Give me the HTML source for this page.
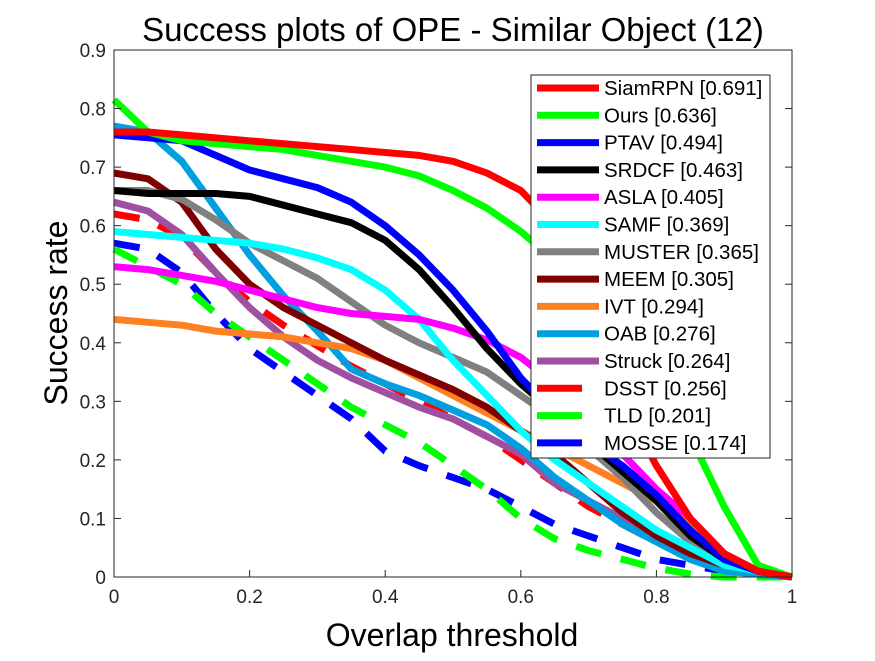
<!DOCTYPE html>
<html><head><meta charset="utf-8"><style>
body{margin:0;background:#fff;}
svg{font-family:"Liberation Sans",sans-serif;}
</style></head><body>
<svg id="chart" width="875" height="656" xmlns="http://www.w3.org/2000/svg">
<rect width="875" height="656" fill="#fff"/>
<text x="453" y="41" font-size="33" text-anchor="middle">Success plots of OPE - Similar Object (12)</text>
<g id="grid"></g>
<g id="series"></g>
<rect x="114" y="50" width="678" height="527" fill="none" stroke="#262626" stroke-width="1"/>
<g id="ticks"></g>
<text x="452" y="646" font-size="32" text-anchor="middle">Overlap threshold</text>
<text transform="translate(67,313) rotate(-90)" font-size="32" text-anchor="middle">Success rate</text>
<g id="legend"></g>
</svg>
<script>
const thresholds=[0,0.05,0.1,0.15,0.2,0.25,0.3,0.35,0.4,0.45,0.5,0.55,0.6,0.65,0.7,0.75,0.8,0.85,0.9,0.95,1];
const xTicks=[0,0.2,0.4,0.6,0.8,1];
const xTickLabels=["0","0.2","0.4","0.6","0.8","1"];
const yTicks=[0,0.1,0.2,0.3,0.4,0.5,0.6,0.7,0.8,0.9];
const yTickLabels=["0","0.1","0.2","0.3","0.4","0.5","0.6","0.7","0.8","0.9"];
const names=["SiamRPN [0.691]","Ours [0.636]","PTAV [0.494]","SRDCF [0.463]","ASLA [0.405]","SAMF [0.369]","MUSTER [0.365]","MEEM [0.305]","IVT [0.294]","OAB [0.276]","Struck [0.264]","DSST [0.256]","TLD [0.201]","MOSSE [0.174]"];
const colors=["#ff0000","#00ff00","#0000ff","#000000","#ff00ff","#00ffff","#808080","#800000","#ff8020","#00a0e0","#a050a0","#ff0000","#00ff00","#0000ff"];
const dashed=[false,false,false,false,false,false,false,false,false,false,false,true,true,true];
const siamrpn=[0.76,0.76,0.755,0.75,0.745,0.74,0.735,0.73,0.725,0.72,0.71,0.69,0.66,0.60,0.45,0.30,0.19,0.10,0.04,0.01,0];
const ours=[0.815,0.76,0.745,0.74,0.735,0.73,0.72,0.71,0.70,0.685,0.66,0.63,0.59,0.54,0.48,0.41,0.33,0.24,0.12,0.02,0];
const ptav=[0.755,0.75,0.745,0.72,0.695,0.68,0.665,0.64,0.60,0.55,0.49,0.42,0.34,0.28,0.23,0.19,0.14,0.08,0.03,0.01,0];
const srdcf=[0.66,0.655,0.655,0.655,0.65,0.635,0.62,0.605,0.575,0.525,0.46,0.39,0.33,0.28,0.23,0.18,0.13,0.07,0.03,0.01,0];
const asla=[0.53,0.525,0.515,0.505,0.49,0.475,0.46,0.45,0.445,0.44,0.425,0.405,0.375,0.33,0.27,0.21,0.15,0.10,0.04,0.01,0];
const samf=[0.59,0.585,0.58,0.575,0.57,0.56,0.545,0.525,0.49,0.44,0.37,0.31,0.25,0.20,0.16,0.12,0.08,0.05,0.02,0.01,0];
const muster=[0.66,0.66,0.645,0.61,0.57,0.54,0.51,0.47,0.43,0.40,0.375,0.35,0.31,0.27,0.22,0.17,0.11,0.06,0.02,0.01,0];
const meem=[0.69,0.68,0.64,0.56,0.50,0.46,0.43,0.40,0.37,0.345,0.32,0.29,0.25,0.21,0.16,0.11,0.07,0.04,0.02,0.01,0];
const ivt=[0.44,0.435,0.43,0.42,0.415,0.41,0.40,0.39,0.37,0.34,0.31,0.28,0.25,0.22,0.19,0.16,0.13,0.09,0.04,0.01,0];
const oab=[0.77,0.76,0.71,0.63,0.55,0.48,0.42,0.355,0.33,0.31,0.285,0.26,0.22,0.17,0.13,0.09,0.06,0.03,0.01,0.005,0];
const struck=[0.64,0.625,0.585,0.52,0.46,0.41,0.37,0.34,0.315,0.29,0.27,0.24,0.21,0.16,0.13,0.10,0.07,0.04,0.02,0.01,0];
const dsst=[0.62,0.61,0.58,0.52,0.47,0.43,0.395,0.36,0.33,0.30,0.27,0.24,0.20,0.16,0.12,0.09,0.06,0.035,0.015,0.005,0];
const tld=[0.56,0.53,0.50,0.45,0.41,0.37,0.33,0.29,0.26,0.23,0.19,0.15,0.10,0.065,0.045,0.03,0.015,0.005,0,0,0];
const mosse=[0.57,0.56,0.52,0.45,0.39,0.35,0.31,0.27,0.215,0.19,0.17,0.15,0.12,0.09,0.07,0.05,0.03,0.02,0.01,0.005,0];
const seriesValues=[siamrpn,ours,ptav,srdcf,asla,samf,muster,meem,ivt,oab,struck,dsst,tld,mosse];
const seriesKeys=["siamrpn","ours","ptav","srdcf","asla","samf","muster","meem","ivt","oab","struck","dsst","tld","mosse"];

const NS="http://www.w3.org/2000/svg";
const X0=114,X1=792,Y0=577,Y1=50,YMAX=0.9;
function xs(t){return X0+(X1-X0)*t;}
function ys(v){return Y0-(Y0-Y1)*v/YMAX;}
function mk(tag,attrs,parent){const e=document.createElementNS(NS,tag);for(const k in attrs)e.setAttribute(k,attrs[k]);parent.appendChild(e);return e;}

const ticks=document.getElementById('ticks');
xTicks.forEach((t,i)=>{
  mk('line',{x1:xs(t),x2:xs(t),y1:Y0,y2:Y0-7,stroke:'#262626'},ticks);
  const tx=mk('text',{x:xs(t),y:Y0+26,'font-size':19,'text-anchor':'middle',fill:'#262626'},ticks);
  
  
  tx.textContent=xTickLabels[i];
});
yTicks.forEach((v,i)=>{
  mk('line',{x1:X0,x2:X0+7,y1:ys(v),y2:ys(v),stroke:'#262626'},ticks);
  mk('line',{x1:X1,x2:X1-7,y1:ys(v),y2:ys(v),stroke:'#262626'},ticks);
  const tx=mk('text',{x:X0-8,y:ys(v)+7,'font-size':19,'text-anchor':'end',fill:'#262626'},ticks);
  
  
  tx.textContent=yTickLabels[i];
});

const sg=document.getElementById('series');
for(let s=seriesValues.length-1;s>=0;s--){
  const pts=seriesValues[s].map((v,i)=>xs(thresholds[i]).toFixed(1)+','+ys(v).toFixed(1)).join(' ');
  const pl=mk('polyline',{points:pts,fill:'none',stroke:colors[s],'stroke-width':7,'stroke-linejoin':'round'},sg);
  if(dashed[s])pl.setAttribute('stroke-dasharray','26 20');
  
  
}

const lg=document.getElementById('legend');
mk('rect',{x:531,y:75,width:239,height:383,fill:'#fff',stroke:'#262626','stroke-width':1},lg);
names.forEach((n,i)=>{
  const y=88+i*27.3;
  const g=mk('g',{},lg);
  
  
  mk('line',{x1:537,x2:dashed[i]?582:599,y1:y,y2:y,stroke:colors[i],'stroke-width':7},g);
  const t=mk('text',{x:604,y:y+7,'font-size':20.5,fill:'#000'},g);
  t.textContent=n;
});
</script>
</body></html>
